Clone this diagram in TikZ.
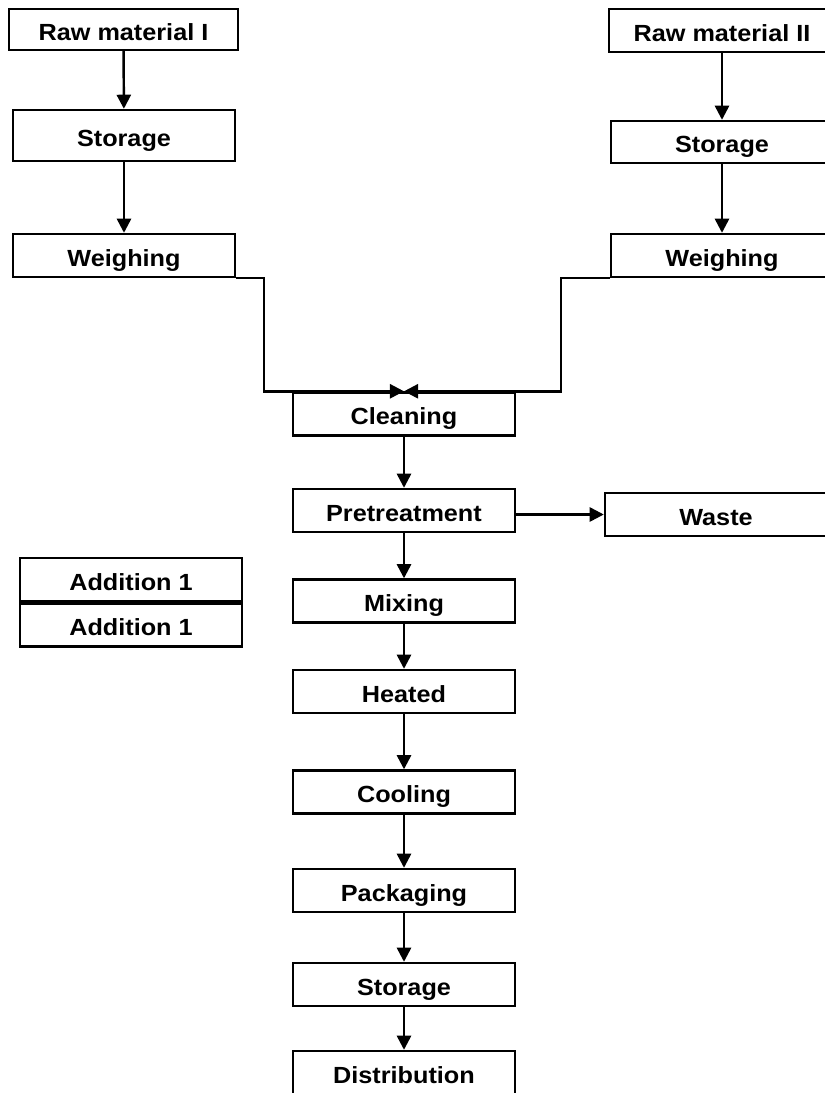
\documentclass[tikz,border=0pt]{standalone}
\usepackage{fontspec}
\setmainfont{Liberation Sans}[FakeStretch=1.08]
\usepackage{tikz}
\usetikzlibrary{arrows.meta,positioning,calc}

\begin{document}
\begin{tikzpicture}[x=0.02cm,y=-0.02cm,
	>={Triangle[length=8pt,width=8pt]},
	stepbox/.style={draw,line width=1.4pt,minimum width=4.44cm,minimum height=0.86cm,inner sep=0pt,
		text height=12pt,text depth=0pt,font=\bfseries\fontsize{13.3}{15}\selectfont},
	flow/.style={line width=1.4pt}]
			\useasboundingbox (0,0) rectangle (825,1093);
			% left raw material line
			\node[stepbox,minimum width=4.58cm,minimum height=0.82cm] (rawA) at (123.5,29.5) {Raw material I};
			\node[stepbox,minimum height=1.02cm] (storeA) at (124,135.5) {Storage};
			\node[stepbox] (weighA) at (124,255.5) {Weighing};
			% right raw material line
			\node[stepbox,minimum width=4.52cm] (rawB) at (722,30.5) {Raw material II};
			\node[stepbox,minimum height=0.84cm] (storeB) at (722,142) {Storage};
			\node[stepbox] (weighB) at (722,255.5) {Weighing};
			% main line
			\node[stepbox] (clean) at (404,414) {Cleaning};
			\node[stepbox] (pretreat) at (404,510.5) {Pretreatment};
			\node[stepbox] (waste) at (716,514.5) {Waste};
			\node[stepbox] (mix) at (404,601) {Mixing};
			\node[stepbox] (heat) at (404,691.5) {Heated};
			\node[stepbox] (cool) at (404,792) {Cooling};
			\node[stepbox] (pack) at (404,890.5) {Packaging};
			\node[stepbox] (storeC) at (404,984.5) {Storage};
			\node[stepbox] (distr) at (404,1072.5) {Distribution};
			% additions
			\node[stepbox] (addA) at (131,579.5) {Addition 1};
			\node[stepbox,below=0pt of addA] (addB) {Addition 1};
			\draw[flow,->] (rawA) -- (storeA);
			\draw[flow,->] (storeA) -- (weighA);
			\draw[flow,->] (rawB) -- (storeB);
			\draw[flow,->] (storeB) -- (weighB);
			\draw[flow,->] (weighA.south east) -- ++(28,0) |- (clean.north);
			\draw[flow,->] (weighB.south west) -- ++(-49,0) |- (clean.north);
			\draw[flow,->] (clean) -- (pretreat);
			\draw[flow,->] (pretreat.east |- waste) -- (waste.west);
			\draw[flow,->] (pretreat) -- (mix);
			\draw[flow,->] (mix) -- (heat);
			\draw[flow,->] (heat) -- (cool);
			\draw[flow,->] (cool) -- (pack);
			\draw[flow,->] (pack) -- (storeC);
			\draw[flow,->] (storeC) -- (distr);
			\end{tikzpicture}
\end{document}
